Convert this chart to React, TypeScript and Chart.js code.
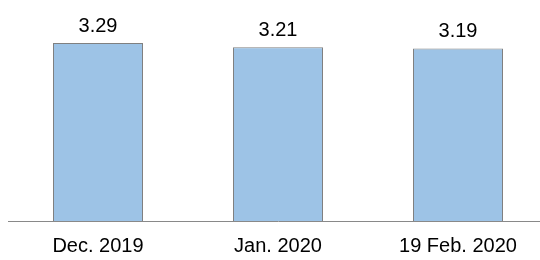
import React, { useEffect, useRef } from "react";
import { Chart, registerables } from "chart.js";

Chart.register(...registerables);

const categories = ["Dec. 2019", "Jan. 2020", "19 Feb. 2020"];
const values = [3.29, 3.21, 3.19];

const valueLabelPlugin = {
  id: "valueLabels",
  afterDatasetsDraw(chart: any) {
    const ctx = chart.ctx;
    const meta = chart.getDatasetMeta(0);
    ctx.save();
    ctx.font = "20px 'Liberation Sans', Arial, sans-serif";
    ctx.fillStyle = "#000000";
    ctx.textAlign = "center";
    ctx.textBaseline = "alphabetic";
    meta.data.forEach((bar: any, i: number) => {
      ctx.fillText(values[i].toFixed(2), bar.x, bar.y - 11);
    });
    ctx.restore();
  },
};

export default function App() {
  const ref = useRef<HTMLCanvasElement>(null);
  useEffect(() => {
    document.body.style.margin = "0";
    document.body.style.overflow = "hidden";
    const chart = new Chart(ref.current!, {
      type: "bar",
      data: {
        labels: categories,
        datasets: [
          {
            data: values,
            backgroundColor: "#9DC3E6",
            borderColor: "#808080",
            borderWidth: 1,
            barPercentage: 0.5,
            categoryPercentage: 1,
          },
        ],
      },
      options: {
        animation: false,
        responsive: false,
        maintainAspectRatio: false,
        layout: { padding: { left: 8, top: 10, right: 0, bottom: 0 } },
        plugins: { legend: { display: false }, tooltip: { enabled: false } },
        scales: {
          x: {
            grid: { display: false, drawTicks: false },
            border: { display: true, color: "#898989", width: 1 },
            ticks: {
              color: "#000000",
              padding: 13,
              maxRotation: 0,
              font: { family: "'Liberation Sans', Arial, sans-serif", size: 20 },
            },
          },
          y: { display: false, min: 0, max: 3.9 },
        },
      },
      plugins: [valueLabelPlugin],
    });
    return () => chart.destroy();
  }, []);
  return (
    <div style={{ position: "absolute", left: 0, top: 0, width: 540, height: 260, overflow: "hidden", background: "#fff" }}>
      <canvas ref={ref} width={548} height={271} style={{ display: "block" }} />
    </div>
  );
}
